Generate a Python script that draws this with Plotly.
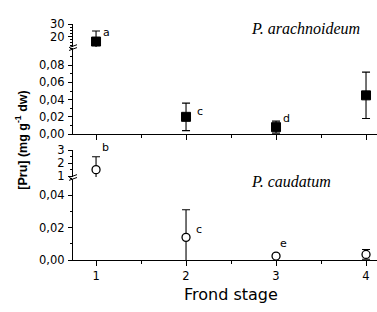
import plotly.graph_objects as go

# ---- data ----
stages = [1, 2, 3, 4]
arach_vals = [16.0, 0.020, 0.008, 0.045]
arach_err = [8.5, 0.016, 0.007, 0.027]
arach_letters = ["a", "c", "d", "d"]
caud_vals = [1.5, 0.014, 0.0025, 0.0035]
caud_err = [1.0, 0.017, 0.001, 0.003]
caud_letters = ["b", "c", "e", "f"]
x_ticks = [1, 2, 3, 4]
top_lo_ticks = [0.00, 0.02, 0.04, 0.06, 0.08]
top_hi_ticks = [20, 30]
bot_lo_ticks = [0.00, 0.02, 0.04]
bot_hi_ticks = [1, 2, 3]
species = ["P. arachnoideum", "P. caudatum"]

W, H = 377, 312
def py(px):
    return 1 - px / H

XDOM = [73 / W, 1.0]
XRANGE = [0.744, 4.122]
TICKFONT = dict(family="DejaVu Sans", size=11.5, color="black")

fig = go.Figure()

sq = dict(symbol="square", size=9, color="black", line=dict(color="black", width=1))
ci = dict(symbol="circle", size=8, color="white", line=dict(color="black", width=1.3))
eb = lambda e: dict(type="data", array=e, color="black", thickness=1.1, width=4)

for ya in ["y", "y2"]:
    fig.add_trace(go.Scatter(x=stages, y=arach_vals, mode="markers", marker=sq,
                             error_y=eb(arach_err), xaxis="x2", yaxis=ya,
                             showlegend=False, cliponaxis=True))
for ya in ["y3", "y4"]:
    fig.add_trace(go.Scatter(x=stages, y=caud_vals, mode="markers", marker=ci,
                             error_y=eb(caud_err), xaxis="x", yaxis=ya,
                             showlegend=False, cliponaxis=True))

def yax(domain, rng, ticks, fmt, minor_dtick, anchor):
    return dict(domain=domain, range=rng, tickvals=ticks, tickformat=fmt,
                showline=True, linecolor="black", linewidth=1.2, ticks="outside",
                ticklen=4, tickcolor="black", tickwidth=1, showgrid=False, zeroline=False,
                tickfont=TICKFONT, anchor=anchor, ticklabelstandoff=1,
                minor=dict(ticks="outside", ticklen=2, dtick=minor_dtick, tickcolor="black",
                           showgrid=False))

xax_common = dict(domain=XDOM, range=XRANGE, tickvals=x_ticks, showline=True,
                  linecolor="black", linewidth=1.2, ticks="outside", ticklen=5,
                  tickcolor="black", showgrid=False, zeroline=False, tickfont=TICKFONT,
                  minor=dict(ticks="outside", ticklen=3, dtick=0.5, tickcolor="black"))

fig.update_layout(
    width=W, height=H, margin=dict(l=0, r=0, t=0, b=0),
    paper_bgcolor="white", plot_bgcolor="white", separators=",.",
    font=dict(family="DejaVu Sans", color="black"),
    xaxis=dict(**xax_common, anchor="y4"),
    xaxis2=dict(**xax_common, anchor="y2", showticklabels=False, matches="x"),
    yaxis=yax([py(42), py(18)], [11.5, 30], top_hi_ticks, "d", 2.5, "x2"),
    yaxis2=yax([py(133), py(43)], [0, 0.1], top_lo_ticks, ".2f", 0.01, "x2"),
    yaxis3=yax([py(178), py(150)], [0.93, 3], bot_hi_ticks, "d", 0.5, "x"),
    yaxis4=yax([py(265), py(180)], [0, 0.05], bot_lo_ticks, ".2f", 0.01, "x"),
)

ann = []
lf = dict(family="DejaVu Sans", size=11, color="black")
top_off = [(10, 9), (14, 5), (10, 9)]
bot_off = [(9, 22), (13, 8), (7, 13)]
C = dict(xanchor="center", yanchor="middle", showarrow=False)
for i in range(3):
    ann.append(dict(x=stages[i], y=arach_vals[i], xref="x2", yref="y" if i == 0 else "y2",
                    text=arach_letters[i], font=lf,
                    xshift=top_off[i][0], yshift=top_off[i][1], **C))
    ann.append(dict(x=stages[i], y=caud_vals[i], xref="x", yref="y3" if i == 0 else "y4",
                    text=caud_letters[i], font=lf,
                    xshift=bot_off[i][0], yshift=bot_off[i][1], **C))
ann.append(dict(x=375 / W, y=py(82), xref="paper", yref="paper", text=arach_letters[3],
                showarrow=False, font=lf, xanchor="left", yanchor="middle"))
ann.append(dict(x=375 / W, y=py(246), xref="paper", yref="paper", text=caud_letters[3],
                showarrow=False, font=lf, xanchor="left", yanchor="middle"))
sf = dict(family="Liberation Serif", size=16, color="black")
ann.append(dict(x=305 / W, y=py(23), xref="paper", yref="paper",
                text="<i>" + species[0] + "</i>", font=sf, **C))
ann.append(dict(x=291 / W, y=py(183), xref="paper", yref="paper",
                text="<i>" + species[1] + "</i>", font=sf, **C))
ann.append(dict(x=21 / W, y=py(140), xref="paper", yref="paper", textangle=-90,
                text="<b>[Pru] (mg g<sup>-1</sup> dw)</b>",
                font=dict(family="Liberation Sans", size=12.5, color="black"), **C))
ann.append(dict(x=231 / W, y=py(301), xref="paper", yref="paper", text="Frond stage",
                font=dict(family="DejaVu Sans", size=16, color="black"), **C))
fig.update_layout(annotations=ann)

# axis break marks
shapes = []
for yb in (42.5, 178.5):
    for dy in (-1.5, 1.5):
        shapes.append(dict(type="line", xref="paper", yref="paper",
                           x0=69 / W, x1=77 / W, y0=py(yb + dy + 1.5), y1=py(yb + dy - 1.5),
                           line=dict(color="black", width=1)))
fig.update_layout(shapes=shapes)

css_js = (
    "var s=document.createElement('style');"
    "s.textContent='html,body{margin:0;padding:0;overflow:hidden;width:377px;height:312px}';"
    "document.head.appendChild(s);"
)
fig.write_html("out.html", config={"displayModeBar": False}, post_script=css_js)
